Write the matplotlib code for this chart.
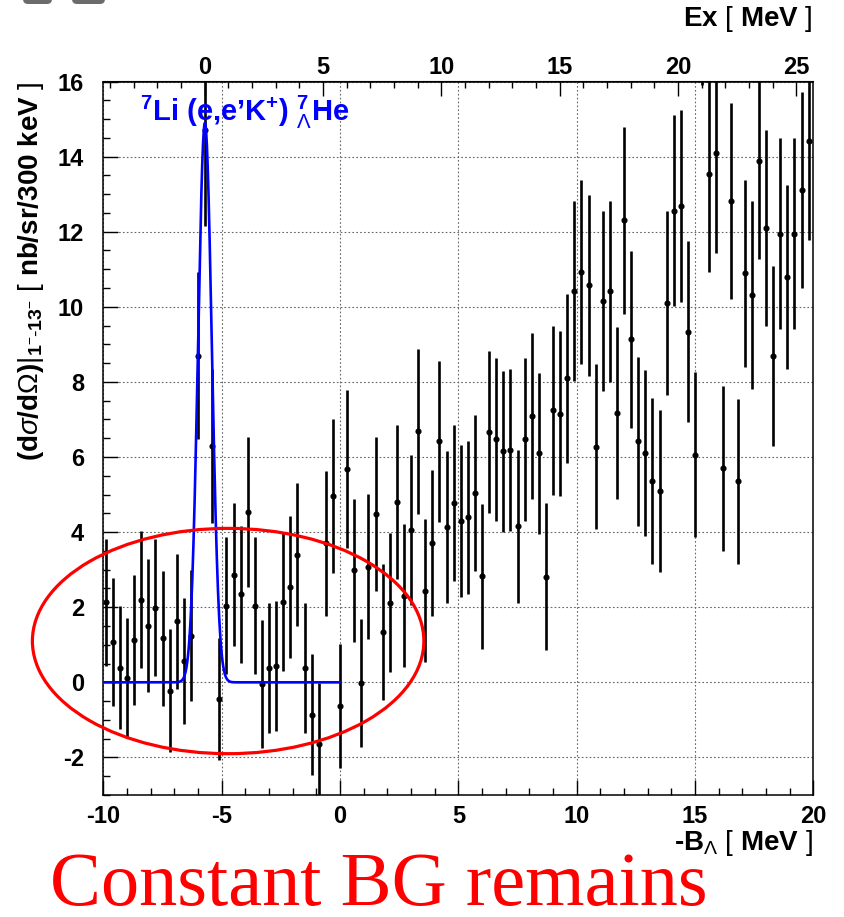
import matplotlib
matplotlib.use("Agg")
import matplotlib.pyplot as plt
import numpy as np
from matplotlib.patches import Ellipse, FancyBboxPatch
from matplotlib.ticker import MultipleLocator
from matplotlib.transforms import IdentityTransform

plt.rcParams['font.family'] = ['Liberation Sans', 'DejaVu Sans']
plt.rcParams['mathtext.fontset'] = 'custom'
plt.rcParams['mathtext.rm'] = 'Liberation Sans'
plt.rcParams['mathtext.bf'] = 'Liberation Sans:bold'
plt.rcParams['mathtext.it'] = 'Liberation Sans:italic'
plt.rcParams['axes.unicode_minus'] = False

# binning of the spectrum (300 keV bins)
BIN_FIRST = -9.9
BIN_WIDTH = 0.3

# cross section per bin [nb/sr/300 keV]
counts = [
    2.13, 1.07, 0.39, 0.12, 1.13, 2.20, 1.51, 1.99, 1.17, -0.22,
    1.63, 0.57, 1.24, 8.70, 14.70, 6.30, -0.45, 2.04, 2.87, 2.34,
    4.54, 2.04, -0.04, 0.38, 0.44, 2.15, 2.54, 3.40, 0.38, -0.86,
    -1.63, 3.70, 4.96, -0.63, 5.69, 2.98, -0.02, 3.08, 4.47, 1.34,
    2.12, 4.80, 2.31, 4.05, 6.68, 2.44, 3.71, 6.42, 4.14, 4.78,
    4.29, 4.39, 5.05, 2.82, 6.67, 6.47, 6.15, 6.18, 4.15, 6.47,
    7.09, 6.10, 2.81, 7.24, 7.15, 8.10, 10.42, 10.92, 10.57, 6.28,
    10.16, 10.41, 7.17, 12.30, 9.13, 6.42, 6.11, 5.36, 5.10, 10.10,
    12.56, 12.69, 9.34, 6.06, 18.65, 13.54, 14.09, 5.70, 12.82, 5.35,
    10.89, 10.31, 13.88, 12.10, 8.70, 11.95, 10.79, 11.95, 13.11, 14.42,
]
errors = [
    1.70, 1.70, 1.63, 1.60, 1.74, 1.82, 1.77, 1.82, 1.80, 1.64,
    1.80, 1.67, 1.75, 2.23, 2.56, 2.05, 1.63, 1.82, 1.90, 1.83,
    1.99, 1.83, 1.70, 1.73, 1.73, 1.84, 1.88, 1.91, 1.72, 1.62,
    1.60, 1.94, 2.05, 1.65, 2.10, 1.90, 1.70, 1.93, 2.05, 1.80,
    1.85, 2.05, 1.90, 2.00, 2.20, 1.90, 1.95, 2.15, 2.03, 2.08,
    2.03, 2.05, 2.08, 1.92, 2.16, 2.18, 2.14, 2.16, 2.03, 2.18,
    2.22, 2.15, 1.96, 2.26, 2.20, 2.25, 2.40, 2.45, 2.40, 2.20,
    2.40, 2.40, 2.30, 2.50, 2.35, 2.25, 2.20, 2.20, 2.15, 2.45,
    2.55, 2.55, 2.40, 2.20, 2.75, 2.60, 2.65, 2.20, 2.60, 2.20,
    2.50, 2.50, 2.60, 2.60, 2.40, 2.55, 2.45, 2.55, 2.60, 2.65,
]

# gaussian fit of the ground state peak
FIT_AMP = 14.9
FIT_MEAN = -5.71
FIT_SIGMA = 0.29
FIT_RANGE = (-10.0, 0.0)

# Ex = -B_Lambda + B_Lambda(g.s.)
EX_OFFSET = 5.72

x_ticks_top = [0, 5, 10, 15, 20, 25]

centers = BIN_FIRST + BIN_WIDTH * np.arange(len(counts))
xfit = np.linspace(FIT_RANGE[0], FIT_RANGE[1], 600)
yfit = FIT_AMP * np.exp(-0.5 * ((xfit - FIT_MEAN) / FIT_SIGMA) ** 2)

W, H = 844, 917
fig = plt.figure(figsize=(W / 100, H / 100), dpi=100)
ax = fig.add_axes([103.4 / W, 1 - 795 / H, 710 / W, 713.5 / H])

ax.errorbar(centers, counts, yerr=errors, fmt='o', ms=3.4, color='black',
            ecolor='black', elinewidth=1.9, capsize=0, zorder=3)
ax.plot(xfit, yfit, color=(0, 0, 1), lw=1.9, zorder=4)

ax.set_xlim(-10, 20)
ax.set_ylim(-3, 16)

ax.xaxis.set_major_locator(MultipleLocator(5))
ax.xaxis.set_minor_locator(MultipleLocator(1))
ax.yaxis.set_major_locator(MultipleLocator(2))
ax.yaxis.set_minor_locator(MultipleLocator(0.5))
ax.grid(which='major', ls=(0, (1.5, 2.0)), color='0.4', lw=0.8, zorder=0)
ax.set_axisbelow(True)

ax.tick_params(which='both', direction='in', top=False, right=False, width=1.0)
ax.tick_params(which='major', length=11)
ax.tick_params(which='minor', length=5)
ax.tick_params(axis='x', which='major', pad=7, labelsize=17)
ax.tick_params(axis='y', which='major', pad=14, labelsize=17)
for lab in ax.get_xticklabels() + ax.get_yticklabels():
    lab.set_fontweight('bold')
for sp in ax.spines.values():
    sp.set_linewidth(1.1)

# secondary Ex scale on top
secax = ax.secondary_xaxis('top', functions=(lambda v: v + EX_OFFSET,
                                             lambda v: v - EX_OFFSET))
secax.set_xticks(x_ticks_top)
secax.xaxis.set_minor_locator(MultipleLocator(1))
secax.tick_params(which='both', direction='in', width=1.0)
secax.tick_params(which='major', length=11, pad=2, labelsize=17)
secax.tick_params(which='minor', length=5)
for lab in secax.get_xticklabels():
    lab.set_fontweight('bold')

# labels
fig.text(813 / W, 1 - 19 / H, r"Ex$\ [\ $MeV$\ ]$", fontweight='bold',
         ha='right', va='center', fontsize=20)
fig.text(813 / W, 1 - 843 / H, r"-B$_{\Lambda}\ [\ $MeV$\ ]$", fontweight='bold',
         ha='right', va='center', fontsize=20)
fig.text(31 / W, 1 - 82 / H,
         r"(d$\sigma$/d$\Omega$)$|_{\mathbf{1}^{-}\mathbf{\text{-}13}^{-}}\ [\ $nb/sr/300 keV$\ ]$",
         fontweight='bold', rotation=90, ha='center', va='top', fontsize=20)

ax.text(-8.47, 14.95, r"$^{\mathbf{7}}$Li (e,e’K$^{\mathbf{+}}$) ${}^{\mathbf{7}}_{\Lambda}$He",
        color=(0, 0, 1), fontsize=21, fontweight='bold', ha='left', va='baseline',
        zorder=5)

# annotation
ell = Ellipse((-4.73, 1.1), 16.54, 6.0, fill=False, edgecolor='red', lw=2.3,
              clip_on=False, zorder=6)
ax.add_patch(ell)
fig.text(50 / W, 1 - 905 / H, "Constant BG remains", color='red',
         fontsize=55, family='Liberation Serif', ha='left', va='baseline')

# bits of window chrome at the top left
for x0, w0 in [(23, 29), (72, 33)]:
    fig.add_artist(FancyBboxPatch((x0, H - 4), w0, 12,
                                  boxstyle="round,pad=0,rounding_size=5",
                                  transform=IdentityTransform(),
                                  facecolor='0.42', edgecolor='none'))

fig.savefig("out.png", dpi=100)
